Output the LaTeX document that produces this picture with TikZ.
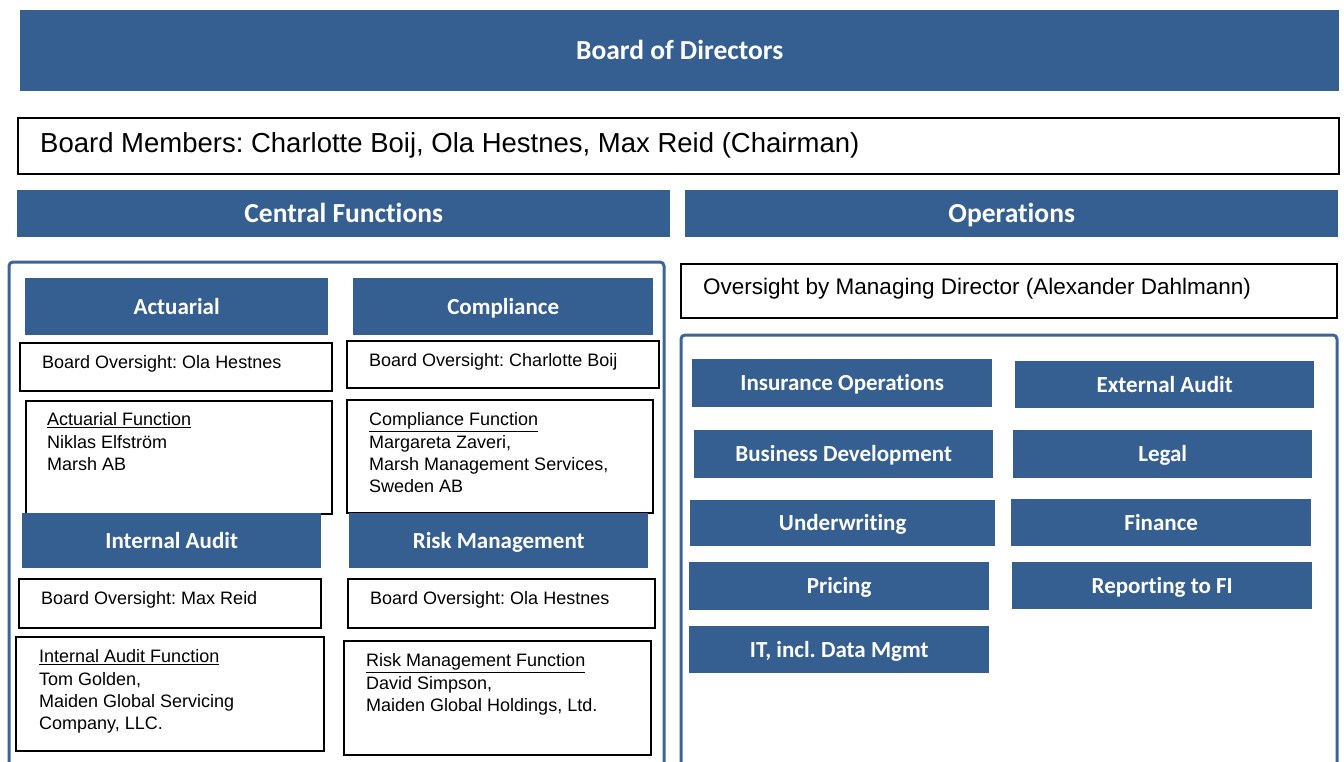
\documentclass[tikz,border=0pt]{standalone}
\usepackage{fontspec}
\setmainfont{Liberation Sans}
\newfontfamily\calibrifont[RawFeature=-liga]{Carlito}
\usetikzlibrary{calc}
\definecolor{hdr}{RGB}{54,95,145}
\definecolor{contc}{RGB}{62,100,150}
\frenchspacing
\begin{document}
\begin{tikzpicture}[x=1pt,y=-1pt,
  hbox/.style={fill=hdr, draw=none, text=white, anchor=north west, inner sep=0pt,
    font=\calibrifont\bfseries\fontsize{23}{27}\selectfont, text height=14.8pt, text depth=0pt},
  bighbox/.style={hbox, font=\calibrifont\bfseries\fontsize{27.5}{32}\selectfont, text height=17.7pt},
  frame/.style={draw=black, line width=2pt, fill=white, anchor=north west, inner sep=0pt},
  body/.style={inner sep=0pt, font=\fontsize{18}{22.3}\selectfont, align=left},
  cont/.style={draw=contc, line width=3pt, rounded corners=4pt}]
\clip (0,0) rectangle (1344,762);
\fill[white] (0,0) rectangle (1344,762);

% top
\node[bighbox, minimum width=1319, minimum height=81] (bod) at (20,10) {Board of Directors};
\node[frame, minimum width=1321, minimum height=56] (mem) at (17,117) {};
\node[inner sep=0pt, anchor=base west, font=\fontsize{27.5}{32}\selectfont] (memt) at (40,153)
  {Board Members: Charlotte Boij, Ola Hestnes, Max Reid (Chairman)};
\node[bighbox, minimum width=653, minimum height=47] (cen) at (17,190) {Central Functions};
\node[bighbox, minimum width=653, minimum height=47] (ops) at (685,190) {Operations};

% containers
\draw[cont] (9,262) rectangle (664,780);
\draw[cont] (681,335) rectangle (1337,780);

% central functions
\node[frame, minimum width=312, minimum height=48] (bo1) at (19,342) {};
\node[body, anchor=base west] (bo1t) at (42,368.5) {Board Oversight: Ola Hestnes};
\node[frame, minimum width=312, minimum height=47] (bo2) at (346,340) {};
\node[body, anchor=base west] (bo2t) at (369,366.5) {Board Oversight: Charlotte Boij};
\node[frame, minimum width=306, minimum height=113] (af) at (25,400) {};
\node[body, anchor=north west] (aft) at (47,412.5) {\underline{Actuarial Function}\\Niklas Elfstr\"om\\Marsh AB};
\node[frame, minimum width=306, minimum height=113] (cf) at (346,399) {};
\node[body, anchor=north west] (cft) at (369,412.5) {\underline{Compliance Function}\\Margareta Zaveri,\\Marsh Management Services,\\Sweden AB};

\node[hbox, minimum width=303, minimum height=57] (act) at (25,278) {Actuarial};
\node[hbox, minimum width=300, minimum height=57] (com) at (353,278) {Compliance};
\node[hbox, minimum width=299, minimum height=55] (ia) at (22,513) {Internal Audit};
\node[hbox, minimum width=299, minimum height=55] (rm) at (349,513) {Risk Management};

\node[frame, minimum width=302, minimum height=49] (bo3) at (18,578) {};
\node[body, anchor=base west] (bo3t) at (41,604.5) {Board Oversight: Max Reid};
\node[frame, minimum width=307, minimum height=49] (bo4) at (347,578) {};
\node[body, anchor=base west] (bo4t) at (370,604.5) {Board Oversight: Ola Hestnes};
\node[frame, minimum width=308, minimum height=114] (iaf) at (15,636) {};
\node[body, anchor=north west] (iaft) at (39,649.5) {\underline{Internal Audit Function}\\Tom Golden,\\Maiden Global Servicing\\Company, LLC.};
\node[frame, minimum width=307, minimum height=114] (rmf) at (343,640) {};
\node[body, anchor=north west] (rmft) at (366,653.5) {\underline{Risk Management Function}\\David Simpson,\\Maiden Global Holdings, Ltd.};

% operations
\node[frame, minimum width=656, minimum height=54] (md) at (680,263) {};
\node[inner sep=0pt, anchor=base west, font=\fontsize{22.5}{27}\selectfont] (mdt) at (703,294)
  {Oversight by Managing Director (Alexander Dahlmann)};
\node[hbox, minimum width=300, minimum height=48] (ins) at (692,359) {Insurance Operations};
\node[hbox, minimum width=299, minimum height=47] (ext) at (1015,361) {External Audit};
\node[hbox, minimum width=299, minimum height=48] (bus) at (694,430) {Business Development};
\node[hbox, minimum width=299, minimum height=48] (leg) at (1013,430) {Legal};
\node[hbox, minimum width=305, minimum height=46] (und) at (690,500) {Underwriting};
\node[hbox, minimum width=300, minimum height=47] (fin) at (1011,499) {Finance};
\node[hbox, minimum width=300, minimum height=48] (pri) at (689,562) {Pricing};
\node[hbox, minimum width=300, minimum height=47] (rep) at (1012,562) {Reporting to FI};
\node[hbox, minimum width=300, minimum height=47] (it) at (689,626) {IT, incl. Data Mgmt};
\end{tikzpicture}
\end{document}
